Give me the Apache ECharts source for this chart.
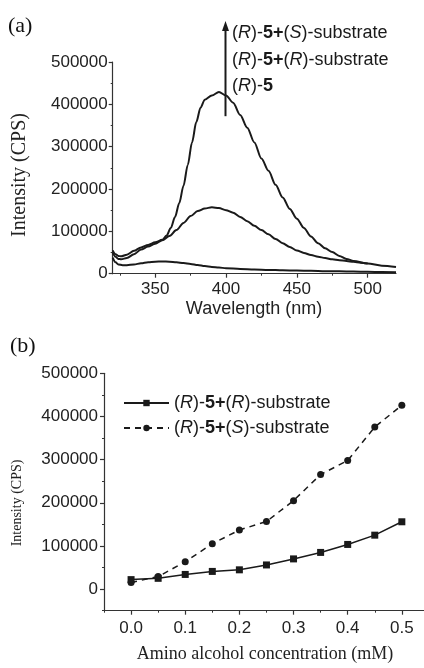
<!DOCTYPE html>
<html><head><meta charset="utf-8">
<script src="https://cdn.jsdelivr.net/npm/echarts@6/dist/echarts.min.js"></script>
<style>html,body{margin:0;padding:0;background:#fff}#c{width:424px;height:668px}</style>
</head><body><div id="c"></div>
<script>
// ---------- Panel (a): emission spectra ----------
const wavelengthS = [320,322,324,326,330,335,340,345,350,355,358,361,364,367,370,373,376,379,382,385,390,395,400,405,410,415,420,425,430,435,440,445,450,455,460,465,470,475,480,485,490,500,510,520];
const intensityS  = [55000,46000,42000,41000,45000,54000,62000,68000,74000,80000,90000,108000,134000,167000,208000,257000,310000,358000,392000,411000,421000,429000,421000,404000,375000,345000,310000,272000,243000,210000,180000,153000,130000,108000,88000,72000,60000,51000,42000,35000,30000,24000,19000,16000];

const wavelengthR = [320,322,324,326,330,335,340,345,350,355,360,365,370,375,380,385,390,395,400,405,410,415,420,425,430,435,440,445,450,455,460,465,470,475,480,485,490,495,500];
const intensityR  = [50000,40000,35000,34000,37000,46000,57000,64000,71000,79000,89000,103000,120000,136000,148000,154000,157000,155000,150000,144000,134000,124000,113000,103000,93000,82000,72000,63000,55000,49000,44000,40000,37000,34000,32000,30000,28000,26000,24000];

const wavelength0 = [320,322,324,327,330,335,340,345,350,355,360,365,370,375,380,385,390,395,400,410,420,430,440,450,460,470,480,490,500,510,520];
const intensity0  = [38000,27000,22000,20000,20000,22000,24500,27000,28500,29000,28500,27000,25000,23000,20500,18000,16000,14500,13000,11000,10000,9000,8000,7500,7000,6000,5500,5000,4500,4000,3500];

const xTicksA = [350,400,450,500];
const xMinorA = [325,375,425,475];
const labelsA = [
  '({i|R})-{b|5+}({i|S})-substrate',
  '({i|R})-{b|5+}({i|R})-substrate',
  '({i|R})-{b|5}'
];
// arrow annotation (data units)
const arrowX = 399, arrowFrom = 372000, arrowTo = 597000;

// ---------- Panel (b): titration ----------
const conc = [0,0.05,0.1,0.15,0.2,0.25,0.3,0.35,0.4,0.45,0.5];
const intensityRR = [22000,25000,34000,41000,44700,56000,70000,85000,103500,125000,156000];
const intensityRS = [15500,29000,63500,105000,137000,156500,205000,265500,298000,375500,426000];
const xTicksB = [0,0.1,0.2,0.3,0.4,0.5];
const xMinorB = [-0.05,0.05,0.15,0.25,0.35,0.45];
const yTicksB = [0,100000,200000,300000,400000,500000];
const yMinorB = [-50000,50000,150000,250000,350000,450000];

const SANS = '"Liberation Sans", Arial, sans-serif';
const SERIF = '"Liberation Serif", "Times New Roman", serif';
const INK = '#1a1a1a';
const AX = '#333';

const richA = {
  i: {fontStyle:'italic', fontSize:18, fontFamily:SANS, fill:INK, color:INK},
  b: {fontWeight:'bold', fontSize:18, fontFamily:SANS, fill:INK, color:INK}
};

const pair = (xs, ys) => xs.map((x,k)=>[x, ys[k]]);

const axLine = {show:true, onZero:false, lineStyle:{color:AX, width:1.2}};
const tickLbl = {fontSize:17, fontFamily:SANS, color:'#222'};
const plain = v => String(v);

const chart = echarts.init(document.getElementById('c'), null, {renderer:'canvas'});
chart.setOption({
  animation:false,
  backgroundColor:'#fff',
  grid:[
    {left:112.7, right:28, top:62, bottom:394.3},
    {left:104, right:0.5, top:373.3, bottom:57.3}
  ],
  xAxis:[
    {gridIndex:0, type:'value', position:'bottom', min:320, max:520,
     axisLine:axLine, splitLine:{show:false},
     axisTick:{show:true, customValues:xTicksA, length:4, lineStyle:{color:AX, width:1.2}},
     axisLabel:Object.assign({customValues:xTicksA, margin:7, formatter:plain}, tickLbl)},
    {gridIndex:0, type:'value', position:'bottom', min:320, max:520,
     axisLine:{show:false, onZero:false}, splitLine:{show:false},
     axisTick:{show:true, customValues:xMinorA, length:2, lineStyle:{color:AX, width:1}},
     axisLabel:{show:false}},
    {gridIndex:1, type:'value', position:'bottom', min:-0.05, max:0.54,
     axisLine:axLine, splitLine:{show:false},
     axisTick:{show:true, customValues:xTicksB, length:4, lineStyle:{color:AX, width:1.2}},
     axisLabel:Object.assign({customValues:xTicksB, margin:9, formatter:v=>v.toFixed(1)}, tickLbl)},
    {gridIndex:1, type:'value', position:'bottom', min:-0.05, max:0.54,
     axisLine:{show:false, onZero:false}, splitLine:{show:false},
     axisTick:{show:true, customValues:xMinorB, length:2, lineStyle:{color:AX, width:1}},
     axisLabel:{show:false}}
  ],
  yAxis:[
    {gridIndex:0, type:'value', position:'left', min:0, max:500000, interval:100000,
     axisLine:axLine, splitLine:{show:false},
     axisTick:{show:true, length:4, lineStyle:{color:AX, width:1.2}},
     minorTick:{show:true, splitNumber:2, length:2, lineStyle:{color:AX, width:1}},
     axisLabel:Object.assign({margin:5, formatter:plain}, tickLbl)},
    {gridIndex:1, type:'value', position:'left', min:-50000, max:500000,
     axisLine:axLine, splitLine:{show:false},
     axisTick:{show:true, customValues:yTicksB, length:4, lineStyle:{color:AX, width:1.2}},
     axisLabel:Object.assign({customValues:yTicksB, margin:6, formatter:plain}, tickLbl)},
    {gridIndex:1, type:'value', position:'left', min:-50000, max:500000,
     axisLine:{show:false, onZero:false}, splitLine:{show:false},
     axisTick:{show:true, customValues:yMinorB, length:2, lineStyle:{color:AX, width:1}},
     axisLabel:{show:false}}
  ],
  legend:{
    data:['RR','RS'], orient:'vertical', left:118, top:389,
    itemWidth:45, itemHeight:8, itemGap:7,
    textStyle:{fontSize:18, fontFamily:SANS, color:INK, rich:{
      i:{fontStyle:'italic', fontSize:18, fontFamily:SANS, color:INK},
      b:{fontWeight:'bold', fontSize:18, fontFamily:SANS, color:INK}}},
    formatter: n => n==='RR' ? '({i|R})-{b|5+}({i|R})-substrate' : '({i|R})-{b|5+}({i|S})-substrate'
  },
  series:[
    {type:'line', xAxisIndex:0, yAxisIndex:0, data:pair(wavelengthS,intensityS),
     showSymbol:false, smooth:0.3, smoothMonotone:'x', lineStyle:{color:INK, width:2}, itemStyle:{color:INK}},
    {type:'line', xAxisIndex:0, yAxisIndex:0, data:pair(wavelengthR,intensityR),
     showSymbol:false, smooth:0.3, smoothMonotone:'x', lineStyle:{color:INK, width:2}, itemStyle:{color:INK}},
    {type:'line', xAxisIndex:0, yAxisIndex:0, data:pair(wavelength0,intensity0),
     showSymbol:false, smooth:0.3, smoothMonotone:'x', lineStyle:{color:INK, width:2}, itemStyle:{color:INK}},
    {name:'RR', type:'line', xAxisIndex:2, yAxisIndex:1, data:pair(conc,intensityRR),
     symbol:'rect', symbolSize:7, lineStyle:{color:INK, width:1.5}, itemStyle:{color:INK}},
    {name:'RS', type:'line', xAxisIndex:2, yAxisIndex:1, data:pair(conc,intensityRS),
     symbol:'circle', symbolSize:7, lineStyle:{color:INK, width:1.5, type:[6,5]}, itemStyle:{color:INK}}
  ]
});

const p0 = chart.convertToPixel({seriesIndex:0}, [arrowX, arrowFrom]);
const p1 = chart.convertToPixel({seriesIndex:0}, [arrowX, arrowTo]);
const ax = Math.round(p0[0]) + 0.5;

const graphics = [
  {type:'line', shape:{x1:ax, y1:p0[1], x2:ax, y2:p1[1]+8}, style:{stroke:INK, lineWidth:2}},
  {type:'polygon', shape:{points:[[ax, p1[1]], [ax-3.5, p1[1]+10], [ax+3.5, p1[1]+10]]}, style:{fill:INK}},
  {type:'text', x:8, y:26, style:{text:'(a)', font:'22px '+SERIF, fill:'#111', verticalAlign:'middle'}},
  {type:'text', x:10, y:346, style:{text:'(b)', font:'22px '+SERIF, fill:'#111', verticalAlign:'middle'}},
  {type:'text', x:20, y:175, rotation:Math.PI/2, style:{text:'Intensity (CPS)', font:'20px '+SERIF, fill:'#222', align:'center', verticalAlign:'middle'}},
  {type:'text', x:17, y:503, rotation:Math.PI/2, style:{text:'Intensity (CPS)', font:'14px '+SERIF, fill:'#222', align:'center', verticalAlign:'middle'}},
  {type:'text', x:254, y:309, style:{text:'Wavelength (nm)', font:'18px '+SANS, fill:'#222', align:'center', verticalAlign:'middle'}},
  {type:'text', x:265, y:654, style:{text:'Amino alcohol concentration (mM)', font:'18px '+SERIF, fill:'#222', align:'center', verticalAlign:'middle'}}
];
const rowsY = [33, 60, 86];
labelsA.forEach((t,k)=>{
  graphics.push({type:'text', x:232, y:rowsY[k], style:{text:t, rich:richA, fontSize:18, fontFamily:SANS, fill:INK, verticalAlign:'middle'}});
});
chart.setOption({graphic:graphics});
</script>
</body></html>
